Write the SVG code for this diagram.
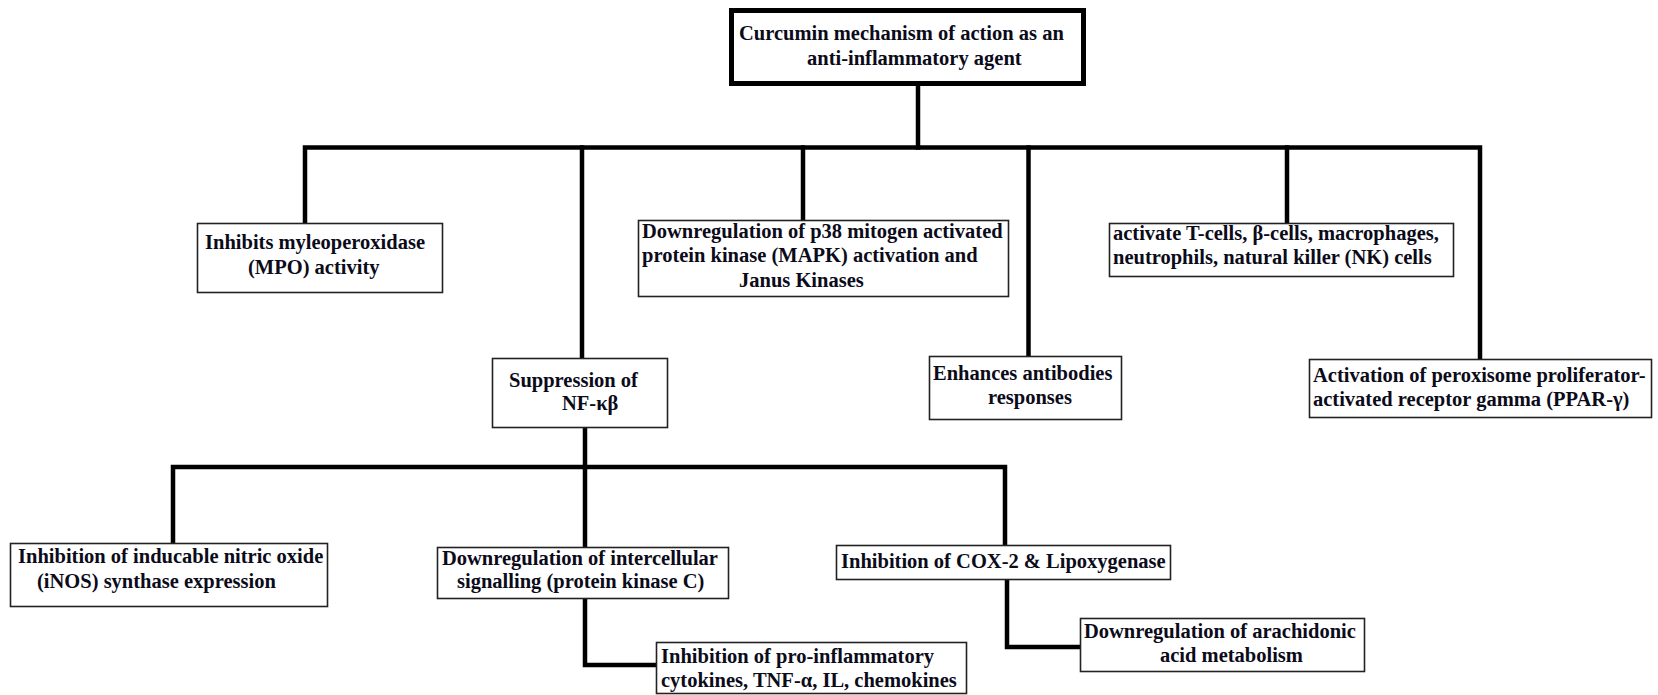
<svg xmlns="http://www.w3.org/2000/svg" width="1658" height="695" viewBox="0 0 1658 695">
<style>
.bg{fill:#fff}
.box{fill:#fff;stroke:#222;stroke-width:1.6}
.main{fill:#fff;stroke:#000;stroke-width:5}
.c{fill:none;stroke:#000;stroke-width:4.5;stroke-linejoin:miter;stroke-linecap:square}
text{font-family:"Liberation Serif","Times New Roman",serif;font-weight:bold;font-size:20.5px;fill:#0b0b1a}
</style>
<rect class="bg" x="0" y="0" width="1658" height="695"/>
<g id="connectors">
<path class="c" d="M918,86 V147.5"/>
<path class="c" d="M305,222 V147.5 H1480 V358"/>
<path class="c" d="M582,147.5 V357"/>
<path class="c" d="M803,147.5 V219"/>
<path class="c" d="M1028.5,147.5 V355"/>
<path class="c" d="M1287,147.5 V222"/>
<path class="c" d="M585,428 V546"/>
<path class="c" d="M173,542 V467 H1005 V544"/>
<path class="c" d="M585,599 V665 H655"/>
<path class="c" d="M1007,580 V647 H1079"/>
</g>
<g id="n-root">
<rect class="main" x="731.5" y="10.5" width="352" height="73"/>
<text x="739" y="40">Curcumin mechanism of action as an</text>
<text x="807" y="65">anti-inflammatory agent</text>
</g>
<g id="n-mpo">
<rect class="box" x="197.5" y="223.5" width="245" height="69"/>
<text x="205" y="249">Inhibits myleoperoxidase</text>
<text x="248" y="274">(MPO) activity</text>
</g>
<g id="n-mapk">
<rect class="box" x="638.5" y="220.5" width="370" height="76"/>
<text x="642" y="238">Downregulation of p38 mitogen activated</text>
<text x="642" y="262">protein kinase (MAPK) activation and</text>
<text x="739" y="287">Janus Kinases</text>
</g>
<g id="n-tcells">
<rect class="box" x="1109.5" y="223.5" width="344" height="53"/>
<text x="1113" y="240">activate T-cells, β-cells, macrophages,</text>
<text x="1113" y="264">neutrophils, natural killer (NK) cells</text>
</g>
<g id="n-nfkb">
<rect class="box" x="492.5" y="358.5" width="175" height="69"/>
<text x="509" y="387">Suppression of</text>
<text x="562" y="410">NF-κβ</text>
</g>
<g id="n-antibodies">
<rect class="box" x="929.5" y="356.5" width="192" height="63"/>
<text x="933" y="380">Enhances antibodies</text>
<text x="988" y="404">responses</text>
</g>
<g id="n-ppar">
<rect class="box" x="1309.5" y="359.5" width="342" height="58"/>
<text x="1313" y="382">Activation of peroxisome proliferator-</text>
<text x="1313" y="406">activated receptor gamma (PPAR-γ)</text>
</g>
<g id="n-inos">
<rect class="box" x="10.5" y="543.5" width="317" height="63"/>
<text x="18" y="563">Inhibition of inducable nitric oxide</text>
<text x="37" y="588">(iNOS) synthase expression</text>
</g>
<g id="n-pkc">
<rect class="box" x="437.5" y="547.5" width="291" height="51"/>
<text x="442" y="565">Downregulation of intercellular</text>
<text x="457" y="588">signalling (protein kinase C)</text>
</g>
<g id="n-cox">
<rect class="box" x="836.5" y="545.5" width="334" height="34"/>
<text x="841" y="568">Inhibition of COX-2 &amp; Lipoxygenase</text>
</g>
<g id="n-cytokines">
<rect class="box" x="656.5" y="642.5" width="310" height="51"/>
<text x="661" y="663">Inhibition of pro-inflammatory</text>
<text x="661" y="687">cytokines, TNF-α, IL, chemokines</text>
</g>
<g id="n-arachidonic">
<rect class="box" x="1080.5" y="618.5" width="284" height="53"/>
<text x="1084" y="638">Downregulation of arachidonic</text>
<text x="1160" y="662">acid metabolism</text>
</g>
</svg>
